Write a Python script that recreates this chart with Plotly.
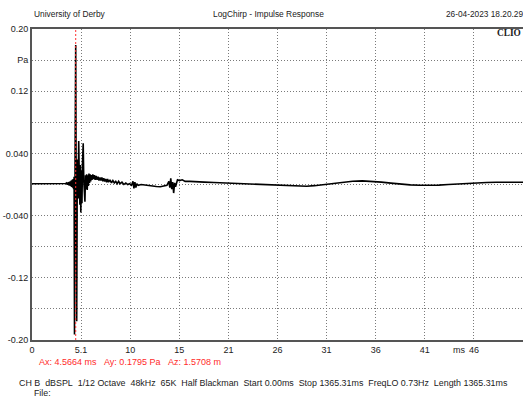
import plotly.graph_objects as go

# Impulse response samples: time (ms) and pressure (Pa)
time_ms = [
    0.00, 0.50, 1.00, 1.50, 2.00, 2.50, 3.00, 3.30, 3.50,
    3.60, 3.65, 3.70, 3.75, 3.80, 3.85, 3.90, 3.95, 4.00, 4.05,
    4.10, 4.15, 4.20, 4.25, 4.30, 4.35, 4.40,
    4.44, 4.50, 4.5664, 4.62, 4.67, 4.72, 4.77, 4.82, 4.88, 4.94,
    5.00, 5.05, 5.10, 5.16, 5.22, 5.28, 5.35, 5.41, 5.47, 5.53,
    5.59, 5.65, 5.71, 5.77, 5.83, 5.89, 5.95, 6.01, 6.07, 6.13,
    6.20, 6.27, 6.35, 6.43, 6.52, 6.60, 6.70, 6.80, 6.90, 7.00,
    7.10, 7.20, 7.30, 7.40, 7.50, 7.60, 7.70, 7.80, 7.90, 8.00,
    8.15, 8.30, 8.45, 8.60, 8.75, 8.90, 9.05, 9.20, 9.40, 9.60,
    9.80, 10.00, 10.20, 10.40, 10.55, 10.65, 10.75, 10.85, 10.95, 11.10,
    11.40, 11.80, 12.20, 12.60, 13.00, 13.40, 13.80, 14.10, 14.30, 14.40,
    14.50, 14.60, 14.70, 14.80, 14.90, 15.00, 15.20, 15.40, 15.70, 16.00,
    16.50, 17.00, 18.00, 19.00, 20.00, 21.00, 22.00, 23.00, 24.00, 25.00,
    26.00, 27.00, 28.00, 28.70, 29.50, 30.50, 31.50, 32.50, 33.50, 34.50,
    35.50, 36.50, 37.50, 38.50, 39.50, 40.50, 41.50, 42.50, 43.50, 44.50,
    45.50, 46.50, 47.50, 48.50, 49.50, 50.50, 51.30,
]
pressure_pa = [
    0.0010, 0.0010, 0.0012, 0.0012, 0.0012, 0.0012, 0.0013, 0.0013, 0.0012,
    0.0020, 0.0000, 0.0025, -0.0005, 0.0030, -0.0010, 0.0035, -0.0015, 0.0040, -0.0020,
    0.0050, -0.0030, 0.0060, -0.0040, 0.0070, -0.0060, 0.0100,
    -0.1930, 0.0300, 0.1795, -0.0200, -0.1760, -0.0100, 0.0320, -0.0180, 0.0560, 0.0100,
    -0.0260, 0.0250, -0.0360, 0.0180, -0.0240, 0.0300, 0.0530, 0.0050, -0.0120, -0.0220,
    0.0120, -0.0060, 0.0130, -0.0070, 0.0120, -0.0020, 0.0140, 0.0020, 0.0130, 0.0040,
    0.0120, 0.0060, 0.0130, 0.0070, 0.0120, 0.0060, 0.0110, 0.0060, 0.0100, 0.0050,
    0.0090, 0.0050, 0.0090, 0.0040, 0.0080, 0.0040, 0.0070, 0.0030, 0.0070, 0.0030,
    0.0060, 0.0020, 0.0050, 0.0020, 0.0040, 0.0010, 0.0040, 0.0010, 0.0030, 0.0000,
    0.0020, 0.0000, 0.0010, -0.0010, 0.0040, -0.0050, 0.0030, -0.0040, 0.0010, -0.0010,
    0.0000, -0.0008, -0.0012, -0.0018, -0.0025, -0.0028, -0.0020, -0.0010, 0.0040, -0.0040,
    0.0080, -0.0060, 0.0030, -0.0110, 0.0020, -0.0030, 0.0060, 0.0050, 0.0060, 0.0040,
    0.0040, 0.0035, 0.0030, 0.0025, 0.0020, 0.0015, 0.0012, 0.0010, 0.0005, 0.0000,
    -0.0008, -0.0015, -0.0020, -0.0022, -0.0015, 0.0000, 0.0018, 0.0032, 0.0042, 0.0046,
    0.0040, 0.0030, 0.0018, 0.0005, -0.0005, -0.0010, -0.0012, -0.0008, 0.0000, 0.0008,
    0.0015, 0.0020, 0.0025, 0.0028, 0.0030, 0.0030, 0.0028,
]

# Axis ticks
x_tick_ms = [0, 5.13, 10.26, 15.39, 20.52, 25.65, 30.78, 35.91, 41.04, 46.17, 51.3]
x_tick_text = ["0", "5.1", "10", "15", "21", "26", "31", "36", "41", "46", "51"]
y_tick_pa = [-0.20, -0.16, -0.12, -0.08, -0.04, 0.0, 0.04, 0.08, 0.12, 0.16, 0.20]
y_tick_text = ["-0.20", "", "-0.12", "", "-0.040", "", "0.040", "", "0.12", "Pa", "0.20"]

# Cursor readout
cursor_ms = 4.5664
cursor_pa = 0.1795
cursor_dist_m = 1.5708

FONT = "Liberation Sans, Arial, sans-serif"
TXT = "#222222"

fig = go.Figure()
fig.add_trace(go.Scatter(
    x=time_ms, y=pressure_pa, mode="lines",
    line=dict(color="black", width=1.6),
    hoverinfo="skip", showlegend=False,
))

# Cursor marker
fig.add_shape(type="line", xref="x", yref="paper",
              x0=cursor_ms, x1=cursor_ms, y0=0, y1=1,
              line=dict(color="#ff3030", width=1, dash="2px,2px"),
              layer="above")

grid = dict(showgrid=True, gridcolor="#7a7a7a", gridwidth=1, griddash="1px,2px",
            zeroline=False, ticks="", tickfont=dict(family=FONT, size=9, color=TXT))

fig.update_layout(
    width=523, height=398,
    margin=dict(l=32, r=0, t=29, b=58),
    paper_bgcolor="white", plot_bgcolor="white",
    xaxis=dict(range=[0, 51.3], tickmode="array", tickvals=x_tick_ms, ticktext=x_tick_text,
               showline=True, linecolor="#555555", linewidth=2, mirror=True, **grid),
    yaxis=dict(range=[-0.2, 0.2], tickmode="array", tickvals=y_tick_pa, ticktext=y_tick_text,
               showline=True, linecolor="#555555", linewidth=2, mirror=False, **grid),
    showlegend=False,
)

def note(text, x, y, xanchor="left", size=9, color=TXT, family=FONT):
    fig.add_annotation(text=text, x=x, y=y, xref="paper", yref="paper",
                       xanchor=xanchor, yanchor="middle", showarrow=False,
                       font=dict(family=family, size=size, color=color))

note("University of Derby", 0.0, 1.048, size=8.4)
note("LogChirp - Impulse Response", 0.4807, 1.048, xanchor="center", size=8.4)
note("26-04-2023 18.20.29", 0.8391, 1.048, size=8.3)
note("<b>CLIO</b>", 1.0, 0.987, xanchor="right", size=9.3, family="Liberation Serif, serif")
note("ms", 0.853, -0.032)
sp = "\u00a0\u00a0\u00a0"
note(f"Ax: {cursor_ms:.4f} ms{sp}Ay: {cursor_pa:.4f} Pa{sp}Az: {cursor_dist_m:.4f} m",
     0.0096, -0.0717, color="#ff2a2a")
sp2 = "\u00a0\u00a0"
info = sp2.join(["CH B", "dBSPL", "1/12 Octave", "48kHz", "65K", "Half Blackman",
                 "Start 0.00ms", "Stop 1365.31ms", "FreqLO 0.73Hz", "Length 1365.31ms"])
note(info, -0.0305, -0.1373, size=8.9)
note("File:", 0.0, -0.172, size=8.8)

fig.write_html("out.html")
